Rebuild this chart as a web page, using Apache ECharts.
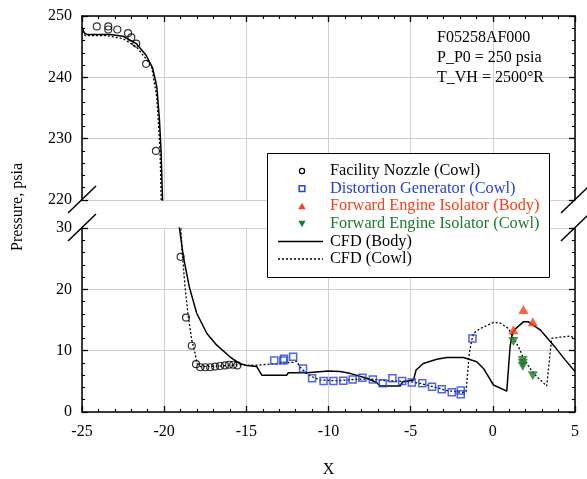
<!DOCTYPE html>
<html>
<head>
<meta charset="utf-8">
<script src="https://cdn.jsdelivr.net/npm/echarts@6/dist/echarts.min.js"></script>
<style>html,body{margin:0;padding:0;background:#fff}#c{width:587px;height:479px}</style>
</head>
<body>
<div id="c"></div>
<script>
// ---- data ----
const xTicks = [-25, -20, -15, -10, -5, 0, 5];
const upperTicks = [220, 230, 240, 250];
const lowerTicks = [0, 10, 20, 30];
const nozzleUpper = [[-24.1,248.3],[-23.4,248.3],[-23.4,247.8],[-22.85,247.8],[-22.2,247.2],[-22.0,246.5],[-21.7,245.5],[-21.1,242.2],[-20.5,228.0]];
const nozzleLower = [[-19.0,25.3],[-18.67,15.4],[-18.32,10.8],[-18.06,7.8],[-17.8,7.3],[-17.5,7.3],[-17.2,7.3],[-16.9,7.4],[-16.6,7.5],[-16.3,7.6],[-16.05,7.7],[-15.8,7.7],[-15.55,7.6]];
const distortion = [[-13.3,8.4],[-12.75,8.4],[-12.7,8.7],[-12.15,9.0],[-11.55,7.1],[-11.0,5.5],[-10.3,5.05],[-9.7,5.05],[-9.1,5.1],[-8.53,5.3],[-7.94,5.6],[-7.3,5.3],[-6.7,4.7],[-6.11,5.5],[-5.52,5.05],[-4.93,4.8],[-4.29,4.7],[-3.7,4.1],[-3.11,3.7],[-2.5,3.2],[-1.95,3.5],[-1.95,2.9],[-1.24,12.0]];
const isoBody = [[1.25,13.4],[1.86,16.7],[2.43,14.7]];
const isoCowl = [[1.25,11.5],[1.82,8.4],[1.82,7.9],[1.82,7.4],[2.43,5.9]];
const cfdBody = [[-25,248.2],[-24.85,247.2],[-24.7,247.0],[-23.3,247.0],[-22.5,246.7],[-21.7,245.5],[-21.1,243.6],[-20.7,241.5],[-20.45,238.5],[-20.3,233.6],[-20.19,228.2],[-20.1,220],
  [-19.08,30.2],[-18.83,25.3],[-18.47,20.4],[-18.02,16.1],[-17.4,12.8],[-16.8,10.9],[-16.0,9.0],[-15.4,7.9],[-14.98,7.6],[-14.37,7.4],[-14.06,6.0],[-12.54,6.0],[-12.44,6.4],[-11.3,6.4],[-10.0,6.7],[-9.3,6.6],[-8.7,6.3],[-7.67,5.5],[-7.07,4.8],[-6.86,4.24],[-5.64,4.24],[-5.48,4.95],[-4.83,5.2],[-4.67,6.85],[-4.23,7.9],[-3.41,8.6],[-2.8,8.9],[-1.79,8.9],[-0.98,8.2],[-0.57,7.1],[0.04,4.4],[0.85,3.4],[1.05,10.65],[1.15,12.3],[1.3,13.4],[1.86,14.7],[2.17,14.7],[2.88,13.4],[3.69,10.9],[4.4,8.5],[5.0,6.6]];
const cfdCowl = [[-25,247.5],[-24.8,246.8],[-23.5,246.8],[-22.5,246.3],[-21.7,245.0],[-21.1,243.0],[-20.76,241.7],[-20.45,236.8],[-20.25,228.2],[-20.19,221],[-20.17,219],
  [-18.99,30.2],[-18.9,25.9],[-18.73,20.4],[-18.53,15.5],[-18.32,11.7],[-18.12,9.6],[-18.0,7.9],[-17.8,7.4],[-16.5,7.5],[-15.5,7.7],[-15.0,7.66],[-14.5,7.6],[-13.36,7.85],[-12.14,8.1],[-11.94,8.3],[-11.73,7.3],[-11.22,6.0],[-10.5,5.2],[-9.5,5.1],[-8.5,5.3],[-7.5,5.4],[-6.5,5.1],[-5.5,5.0],[-4.9,4.9],[-4.3,4.6],[-3.6,4.1],[-2.8,3.5],[-1.9,3.2],[-1.63,3.3],[-1.43,9.6],[-1.28,11.7],[-1.18,12.8],[-0.77,13.6],[0.04,14.6],[0.45,14.5],[0.96,13.6],[1.25,12.0],[1.56,10.65],[1.86,8.75],[2.47,6.3],[3.28,4.24],[3.58,12.0],[4.1,12.2],[4.7,12.4],[5.0,12.0]];
const annotation = ['F05258AF000', 'P_P0 = 250 psia', 'T_VH = 2500°R'];
const legendNames = ['Facility Nozzle (Cowl)', 'Distortion Generator (Cowl)', 'Forward Engine Isolator (Body)',
                     'Forward Engine Isolator (Cowl)', 'CFD (Body)', 'CFD (Cowl)'];

// ---- layout ----
const L = 82, W = 493, T0 = 16, H = 184, T1 = 228;
const FONT = 'Liberation Serif';
const BLUE = '#2440e0', RED = '#ff3a14', GREEN = '#1e7a2c';
const DOWN_TRI = 'path://M0,0L10,0L5,9Z';

const tickCommon = {
  axisLine: {show: true, onZero: false, lineStyle: {color: '#000', width: 1.5}},
  axisTick: {show: true, inside: true, length: 6, lineStyle: {color: '#000', width: 1.3}},
  minorTick: {show: true, splitNumber: 5, length: 3, lineStyle: {color: '#000', width: 1.1}}
};
const labelStyle = {fontFamily: FONT, fontSize: 16, color: '#000'};

function xAxis(grid, pos, labels) {
  return Object.assign({
    type: 'value', gridIndex: grid, position: pos,
    min: xTicks[0], max: xTicks[xTicks.length - 1], interval: xTicks[1] - xTicks[0],
    axisLabel: Object.assign({show: labels, margin: 12}, labelStyle),
    splitLine: {show: true, lineStyle: {color: '#cfcfcf', width: 1}}
  }, tickCommon);
}
function yAxis(grid, pos, ticks, labels) {
  return Object.assign({
    type: 'value', gridIndex: grid, position: pos,
    min: ticks[0], max: ticks[ticks.length - 1], interval: ticks[1] - ticks[0],
    axisLabel: Object.assign({show: labels, margin: 10}, labelStyle),
    splitLine: {show: labels, lineStyle: {color: '#cfcfcf', width: 1}}
  }, tickCommon);
}

function breakMarks(cx, cy) {
  return {type: 'line', shape: {x1: cx - 14, y1: cy + 13, x2: cx + 14, y2: cy - 14},
          style: {stroke: '#000', lineWidth: 1.5}, z: 100};
}

// ---- legend drawn as a graphic group (real text) ----
const LG = {x: 267, y: 153, w: 282, h: 124, row0: 171, rowGap: 17.6, mx: 302, tx: 330, lx1: 278, lx2: 323};
const legendColors = ['#000', BLUE, RED, GREEN, '#000', '#000'];
function legendGraphic() {
  const els = [{type: 'rect', shape: {x: LG.x + 0.5, y: LG.y + 0.5, width: LG.w, height: LG.h},
               style: {fill: '#fff', stroke: '#000', lineWidth: 1}, z: 80}];
  legendNames.forEach((n, i) => {
    const cy = LG.row0 + i * LG.rowGap;
    els.push({type: 'text', x: LG.tx, y: cy, z: 81,
      style: {text: n, font: '16.3px "' + FONT + '"', fill: legendColors[i], verticalAlign: 'middle'}});
    let m;
    if (i === 0) m = {type: 'circle', shape: {cx: LG.mx, cy: cy, r: 2.6}, style: {fill: 'none', stroke: '#000', lineWidth: 1.2}};
    else if (i === 1) m = {type: 'rect', shape: {x: LG.mx - 2.8, y: cy - 2.8, width: 5.6, height: 5.6}, style: {fill: 'none', stroke: BLUE, lineWidth: 1.5}};
    else if (i === 2) m = {type: 'polygon', shape: {points: [[LG.mx - 3.6, cy + 3], [LG.mx + 3.6, cy + 3], [LG.mx, cy - 3.4]]}, style: {fill: RED}};
    else if (i === 3) m = {type: 'polygon', shape: {points: [[LG.mx - 3.6, cy - 3], [LG.mx + 3.6, cy - 3], [LG.mx, cy + 3.4]]}, style: {fill: GREEN}};
    else m = {type: 'line', shape: {x1: LG.lx1, y1: cy, x2: LG.lx2, y2: cy},
              style: {stroke: '#000', lineWidth: i === 4 ? 1.5 : 1.3, lineDash: i === 4 ? null : [2, 2]}};
    m.z = 81;
    els.push(m);
  });
  return els;
}

const bodyLine = {type: 'line', name: 'CFD (Body)', symbol: 'none', showSymbol: false, clip: true,
  lineStyle: {color: '#000', width: 1.5}, itemStyle: {color: '#000'}, z: 2};
const cowlLine = {type: 'line', name: 'CFD (Cowl)', symbol: 'none', showSymbol: false, clip: true,
  lineStyle: {color: '#000', width: 1.3, type: [2, 2]}, itemStyle: {color: '#000'}, z: 2};

const option = {
  animation: false,
  backgroundColor: '#fff',
  grid: [
    {left: L, top: T0, width: W, height: H},
    {left: L, top: T1, width: W, height: H}
  ],
  xAxis: [xAxis(0, 'top', false), xAxis(1, 'bottom', true)],
  yAxis: [yAxis(0, 'left', upperTicks, true), yAxis(0, 'right', upperTicks, false),
          yAxis(1, 'left', lowerTicks, true), yAxis(1, 'right', lowerTicks, false)],
  graphic: [
    {type: 'text', left: 437, top: 28, z: 60,
     style: {text: annotation.join('\n'), font: '16px "' + FONT + '"', lineHeight: 20, fill: '#000'}},
    {type: 'text', x: 18, y: 207, rotation: Math.PI / 2, z: 60,
     style: {text: 'Pressure, psia', font: '16px "' + FONT + '"', fill: '#000', align: 'center', verticalAlign: 'middle'}},
    {type: 'text', x: L + W / 2, y: 470, z: 60,
     style: {text: 'X', font: '16px "' + FONT + '"', fill: '#000', align: 'center', verticalAlign: 'middle'}},
    breakMarks(L, T0 + H), breakMarks(L, T1),
    breakMarks(L + W, T0 + H), breakMarks(L + W, T1)
  ].concat(legendGraphic()),
  series: [
    Object.assign({xAxisIndex: 0, yAxisIndex: 0, data: cfdBody}, bodyLine),
    Object.assign({xAxisIndex: 1, yAxisIndex: 2, data: cfdBody}, bodyLine),
    Object.assign({xAxisIndex: 0, yAxisIndex: 0, data: cfdCowl}, cowlLine),
    Object.assign({xAxisIndex: 1, yAxisIndex: 2, data: cfdCowl}, cowlLine),
    {type: 'scatter', name: legendNames[0], xAxisIndex: 0, yAxisIndex: 0, data: nozzleUpper,
     symbol: 'circle', symbolSize: 7, z: 3,
     itemStyle: {color: 'rgba(255,255,255,0)', borderColor: '#000', borderWidth: 1.2}},
    {type: 'scatter', name: legendNames[0], xAxisIndex: 1, yAxisIndex: 2, data: nozzleLower,
     symbol: 'circle', symbolSize: 7, z: 3,
     itemStyle: {color: 'rgba(255,255,255,0)', borderColor: '#000', borderWidth: 1.2}},
    {type: 'scatter', name: legendNames[1], xAxisIndex: 1, yAxisIndex: 2, data: distortion,
     symbol: 'rect', symbolSize: 7, z: 3,
     itemStyle: {color: 'rgba(255,255,255,0)', borderColor: BLUE, borderWidth: 1.5}},
    {type: 'scatter', name: legendNames[2], xAxisIndex: 1, yAxisIndex: 2, data: isoBody,
     symbol: 'triangle', symbolSize: [10, 9], z: 3, itemStyle: {color: RED}},
    {type: 'scatter', name: legendNames[3], xAxisIndex: 1, yAxisIndex: 2, data: isoCowl,
     symbol: DOWN_TRI, symbolSize: [10, 9], z: 3, itemStyle: {color: GREEN}}
  ]
};

const chart = echarts.init(document.getElementById('c'), null, {renderer: 'canvas'});
chart.setOption(option);
</script>
</body>
</html>
